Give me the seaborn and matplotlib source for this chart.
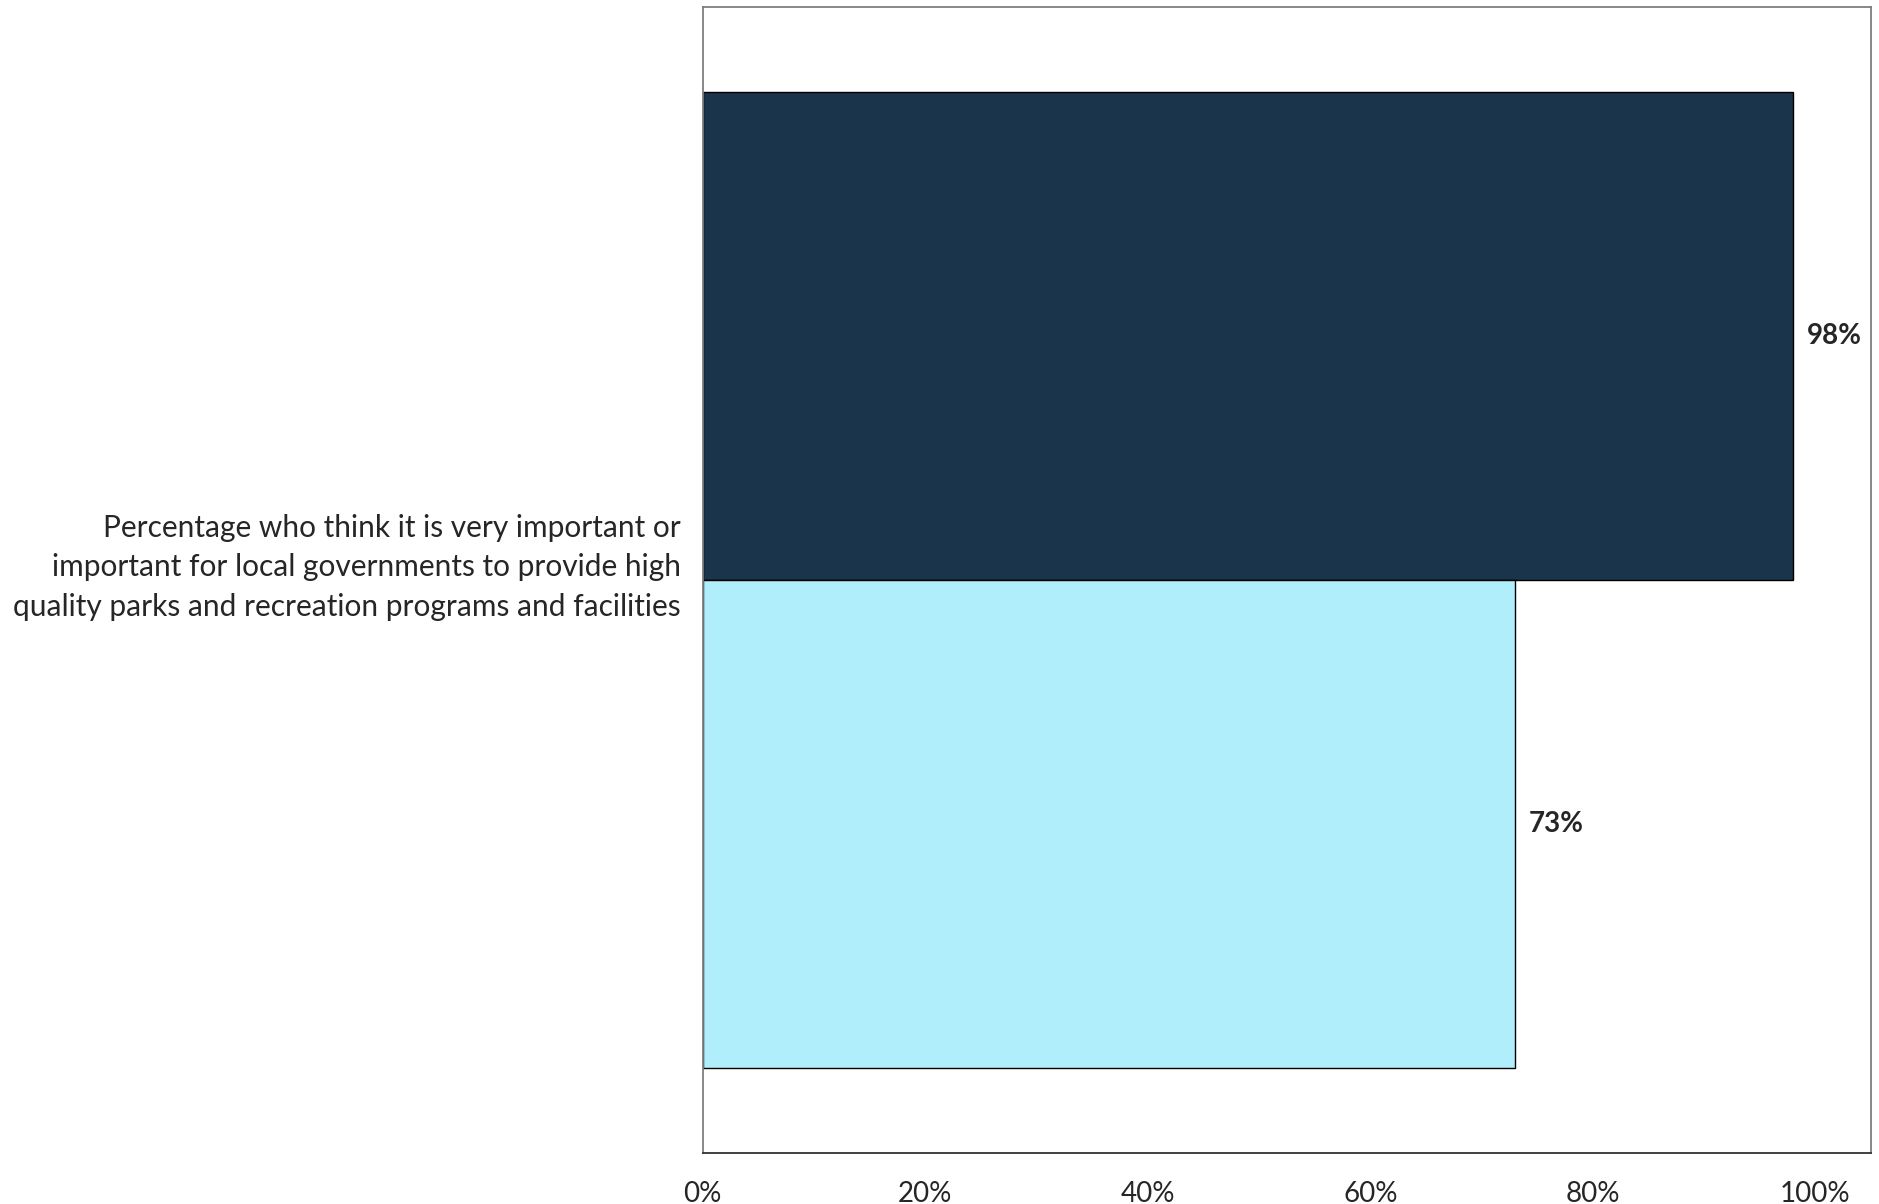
import pandas as pd
import matplotlib.pyplot as plt
import matplotlib.transforms as mtransforms
import seaborn as sns
from matplotlib.ticker import PercentFormatter

# data
question = ["Percentage who think it is very important or\nimportant for local governments to provide high\nquality parks and recreation programs and facilities"]
series = ["Series 1", "Series 2"]
values = [0.98, 0.73]
bar_colors = ["#1a344b", "#b0eefc"]
x_ticks = [0, 0.2, 0.4, 0.6, 0.8, 1.0]

df = pd.DataFrame({
    "question": question * len(series),
    "series": series,
    "value": values,
})

sns.set_style("white")
plt.rcParams["font.family"] = ["Lato", "DejaVu Sans"]

fig = plt.figure(figsize=(18.79, 12.04), dpi=100)
ax = fig.add_axes([0.374, 0.0424, 0.6217, 0.9518])

sns.barplot(
    data=df,
    x="value",
    y="question",
    hue="series",
    palette=bar_colors,
    saturation=1,
    orient="h",
    width=0.8,
    edgecolor="black",
    linewidth=1,
    legend=False,
    ax=ax,
)

# value labels
for container in ax.containers:
    ax.bar_label(container, labels=[f"{v * 100:.0f}%" for v in container.datavalues],
                 padding=10, fontsize=20, fontweight="bold")

ax.set_xlim(0, 1.05)
ax.set_ylim(0.47, -0.47)
ax.set_xticks(x_ticks)
ax.xaxis.set_major_formatter(PercentFormatter(1.0, decimals=0))
ax.set_xlabel("")
ax.set_ylabel("")
ax.tick_params(axis="x", length=0, labelsize=20, pad=20)
ax.tick_params(axis="y", length=0, labelsize=21.5, pad=16)

# question label sits a little above the category centre
shift = mtransforms.ScaledTranslation(0, 0.21, fig.dpi_scale_trans)
for lab in ax.get_yticklabels():
    lab.set_horizontalalignment("right")
    lab.set_multialignment("right")
    lab.set_linespacing(1.5)
    lab.set_transform(lab.get_transform() + shift)

for side in ["top", "right", "left", "bottom"]:
    ax.spines[side].set_visible(True)
    ax.spines[side].set_color("#7f7f7f")
    ax.spines[side].set_linewidth(1.3)
ax.spines["bottom"].set_color("#333333")

plt.savefig("out.png", dpi=100)
